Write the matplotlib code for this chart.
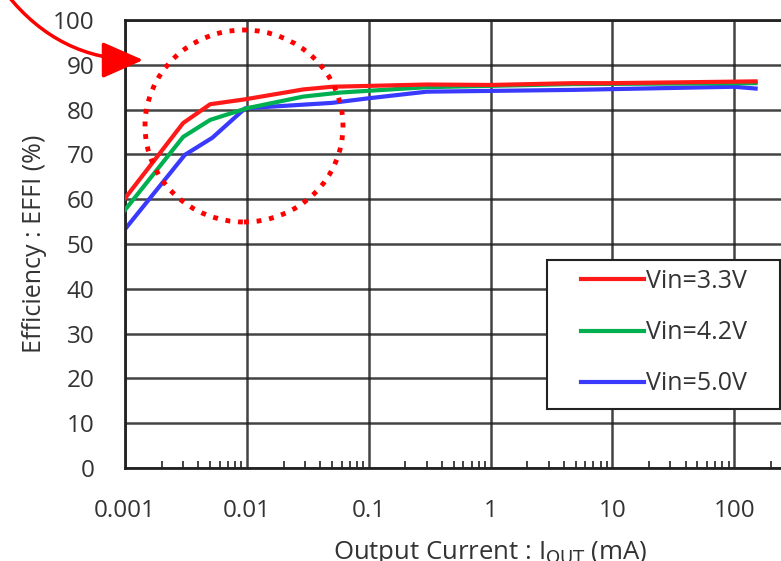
import matplotlib
matplotlib.use("Agg")
import matplotlib.pyplot as plt
from matplotlib.patches import Ellipse, FancyArrowPatch, Rectangle
from matplotlib.ticker import LogLocator, NullFormatter, FixedLocator

plt.rcParams['font.family'] = ['Open Sans', 'DejaVu Sans']

# output current (mA) and efficiency (%)
i_33 = [0.001, 0.003, 0.005, 0.0097, 0.029, 0.05, 0.3, 1, 4.8, 10, 150]
eff_33 = [60.2, 77.0, 81.2, 82.3, 84.5, 85.1, 85.6, 85.5, 85.9, 85.9, 86.3]

i_42 = [0.001, 0.003, 0.005, 0.01, 0.029, 0.058, 0.3, 4.8, 150]
eff_42 = [57.6, 73.9, 77.7, 80.3, 82.9, 83.8, 85.0, 85.7, 85.9]

i_50 = [0.001, 0.0031, 0.0052, 0.0097, 0.05, 0.098, 0.3, 4.8, 100, 150]
eff_50 = [53.3, 69.9, 73.7, 80.3, 81.5, 82.5, 84.0, 84.4, 85.1, 84.7]

labels = ["Vin=3.3V", "Vin=4.2V", "Vin=5.0V"]
colors = ["#ff1a1a", "#00b050", "#3a3aff"]

W, H = 781, 561
fig = plt.figure(figsize=(W / 100, H / 100), dpi=100)
# axes run to 1000 mA, past the right edge of the picture (source is cropped)
ax = fig.add_axes([125 / W, 1 - 468 / H, (856 - 125) / W, (468 - 20) / H])

ax.plot(i_33, eff_33, color=colors[0], lw=3, label=labels[0], zorder=4)
ax.plot(i_42, eff_42, color=colors[1], lw=3, label=labels[1], zorder=3)
ax.plot(i_50, eff_50, color=colors[2], lw=3, label=labels[2], zorder=2)

ax.set_xscale("log")
ax.set_xlim(0.001, 1000)
ax.set_ylim(0, 100)
ax.set_yticks(range(0, 101, 10))
ax.xaxis.set_major_locator(FixedLocator([0.001, 0.01, 0.1, 1, 10, 100]))
ax.set_xticklabels(["0.001", "0.01", "0.1", "1", "10", "100"])
ax.xaxis.set_minor_locator(LogLocator(base=10, subs=range(2, 10), numticks=20))
ax.xaxis.set_minor_formatter(NullFormatter())

ax.grid(True, which="major", color="#222222", lw=1.8, alpha=0.85)
ax.set_axisbelow(True)
ax.tick_params(which="major", direction="in", length=0, labelsize=17.5,
               colors="#333333")
ax.tick_params(axis="x", which="major", pad=22)
ax.tick_params(axis="y", which="major", pad=22)
ax.tick_params(axis="x", which="minor", direction="in", length=5, width=1.2,
               color="#222222")
for s in ax.spines.values():
    s.set_linewidth(2)
    s.set_color("#222222")

ax.set_xlabel(r"Output Current : I$_{\mathrm{OUT}}$ (mA)", fontsize=18.5,
              color="#333333", labelpad=12)
ax.set_ylabel("Efficiency : EFFI (%)", fontsize=18, color="#333333",
              labelpad=4)

# legend box drawn separately so its padding can match the source
box = Rectangle((547 / W, 1 - 409 / H), (780 - 547) / W, (409 - 260) / H,
                transform=fig.transFigure, fc="white", ec="#222222", lw=1.5,
                zorder=5)
fig.add_artist(box)
leg = fig.legend(loc="upper left", bbox_to_anchor=(581 / W, 1 - 269 / H),
                 fontsize=18, handlelength=2.5, handletextpad=0.1,
                 labelspacing=1.05, borderpad=0, borderaxespad=0,
                 frameon=False)
leg.set_zorder(6)
for t in leg.get_texts():
    t.set_color("#333333")

# red callout: dotted circle and curved arrow
circ = Ellipse((244 / W, 1 - 126 / H), 198 / W, 192 / H,
               transform=fig.transFigure, fill=False, ec="#ff0000",
               lw=3.5, ls=(0, (1, 1.6)), zorder=10)
fig.add_artist(circ)
arr = FancyArrowPatch((5 / W, 1 + 8 / H), (146 / W, 1 - 60 / H),
                      transform=fig.transFigure,
                      connectionstyle="arc3,rad=0.25",
                      arrowstyle="-|>,head_length=1.7,head_width=0.75",
                      mutation_scale=15, color="#ff0000", lw=2.5, zorder=10)
fig.add_artist(arr)

fig.savefig("out.png", dpi=100)
